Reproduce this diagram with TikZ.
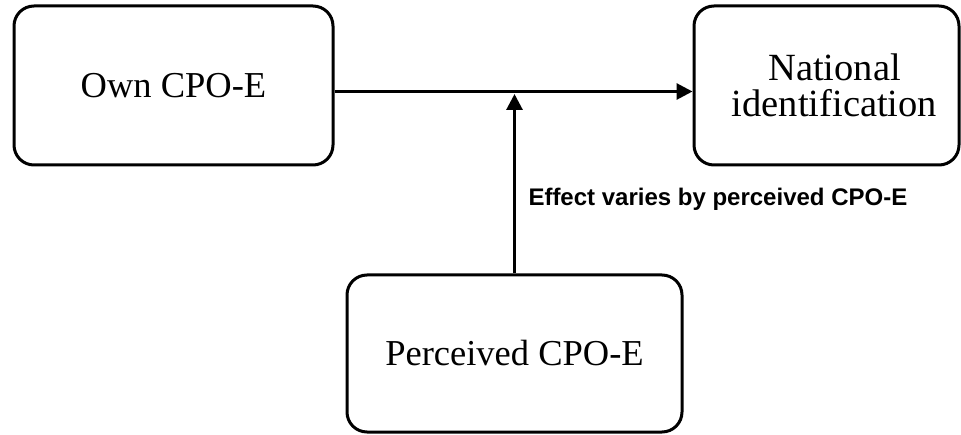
\documentclass[tikz,border=0pt]{standalone}
\usepackage{fontspec}
\setmainfont{Liberation Serif}
\newfontfamily\labelfont{Liberation Sans}
\usetikzlibrary{arrows.meta}

\begin{document}
\begin{tikzpicture}[x=1pt,y=1pt,line width=3pt]
\tikzstyle{every node}+=[inner sep=0pt]
\tikzstyle{box}=[draw,rounded corners=20pt,align=center,font=\fontsize{36.5}{37}\selectfont]
\tikzstyle{link}=[-{Triangle[length=16pt,width=16pt]}]
\useasboundingbox (0,0) rectangle (961,434);
\node [box,minimum width=319pt,minimum height=159pt] (own) at (173.5,348.5) {Own CPO-E};
\node [box,minimum width=265pt,minimum height=159pt,font=\fontsize{38.5}{36}\selectfont] (natid) at (826.5,348.5) {\hspace*{16pt}National\\\hspace*{16pt}identi\kern0pt fication};
\node [box,minimum width=335pt,minimum height=157pt] (perc) at (514.5,80.5) {Perceived CPO-E};
\coordinate (meet) at (514.5,341.5);
\draw [link] ([yshift=-6pt]own.east) -- ([yshift=-6pt]natid.west);
\draw [link] (perc.north -| meet) -- ([yshift=-1.5pt]meet);
\node [anchor=west,font=\labelfont\bfseries\fontsize{24}{26}\selectfont] (effect) at (527,235) {Effect varies by perceived CPO-E};
\end{tikzpicture}
\end{document}
